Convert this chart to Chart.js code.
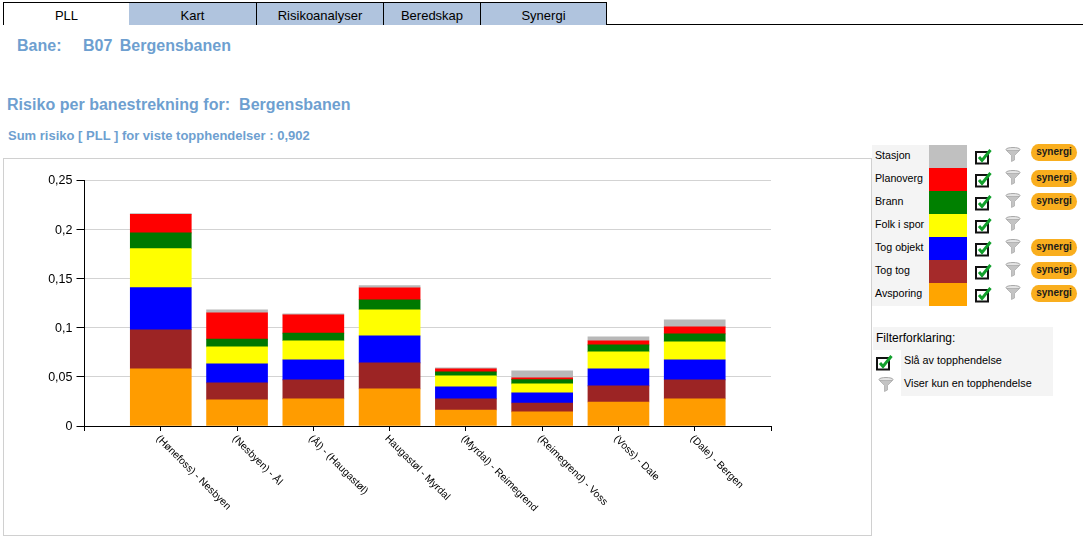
<!DOCTYPE html>
<html>
<head>
<meta charset="utf-8">
<title>Risiko per banestrekning</title>
<script src="https://cdn.jsdelivr.net/npm/chart.js@4/dist/chart.umd.min.js"></script>
<style>
  html, body { margin: 0; padding: 0; background: #fff; overflow: hidden; }
  body { width: 1083px; height: 540px; position: relative; font-family: "Liberation Sans", Arial, sans-serif; color: #000; }
  .abs { position: absolute; white-space: pre; }
  .tab { position: absolute; top: 2px; height: 22px; line-height: 25px; background: #b0c4de; border: 1px solid #000; border-bottom: 0; border-left: 0; text-align: center; font-size: 13px; box-sizing: content-box; }
  .tab.active { background: #fff; border-left: 1px solid #000; }
  .tabline { position: absolute; left: 607px; right: 0; top: 24px; height: 1px; background: #000; }
  .head { color: #6e9fd0; font-weight: bold; }
  #chartBox { position: absolute; left: 3px; top: 158px; width: 869px; height: 378px; border: 1px solid #d0d0d0; box-sizing: border-box; }
  #chart { position: absolute; left: 0; top: 0; }
  .lbl { position: absolute; left: 872px; width: 57px; height: 23px; background: #f4f4f4; font-size: 10.67px; line-height: 21px; text-indent: 3px; white-space: nowrap; }
  .swatch { position: absolute; left: 929px; width: 38px; height: 23px; }
  .syn { position: absolute; left: 1031px; width: 46px; height: 17px; background: #f9ae1e; border-radius: 8px / 9px; font-size: 10px; font-weight: bold; line-height: 16px; text-align: center; color: #1c1c1c; }
  .icon { position: absolute; }
  #filterBox { position: absolute; left: 873px; top: 327px; width: 180px; height: 69px; background: #f4f4f4; }
  #filterCell { position: absolute; left: 873px; top: 350px; width: 28px; height: 46px; background: #fff; }
</style>
</head>
<body>
<div class="tab active" style="left:3px;width:125px">PLL</div>
<div class="tab" style="left:129px;width:127px">Kart</div>
<div class="tab" style="left:257px;width:126px">Risikoanalyser</div>
<div class="tab" style="left:384px;width:96px">Beredskap</div>
<div class="tab" style="left:481px;width:125px">Synergi</div>
<div class="tabline"></div>

<div class="abs head" style="left:17px;top:37px;font-size:16px">Bane:</div>
<div class="abs head" style="left:83px;top:37px;font-size:16px;word-spacing:3px">B07 Bergensbanen</div>
<div class="abs head" style="left:7px;top:96px;font-size:16px;letter-spacing:0.03px">Risiko per banestrekning for:  Bergensbanen</div>
<div class="abs head" style="left:8px;top:128px;font-size:13px">Sum risiko [ PLL ] for viste topphendelser : 0,902</div>

<div id="chartBox"><canvas id="chart" width="866" height="375"></canvas></div>

<div id="filterBox"></div>
<div id="filterCell"></div>
<div class="abs" style="left:876px;top:331px;font-size:12px">Filterforklaring:</div>
<div class="abs" style="left:904px;top:354px;font-size:10.8px">Slå av topphendelse</div>
<div class="abs" style="left:904px;top:377px;font-size:10.8px">Viser kun en topphendelse</div>
<div id="legend"></div>

<script>
// ==== Data ====
const categories = [
  "",
  "(Hønefoss) - Nesbyen",
  "(Nesbyen) - Ål",
  "(Ål) - (Haugastøl)",
  "Haugastøl - Myrdal",
  "(Myrdal) - Reimegrend",
  "(Reimegrend) - Voss",
  "(Voss) - Dale",
  "(Dale) - Bergen",
  ""
];

const avsporing = [null, 0.058, 0.0265, 0.0275, 0.0377, 0.0163, 0.0143, 0.0244, 0.0275, null];
const togTog = [null, 0.0398, 0.0173, 0.0193, 0.0265, 0.0112, 0.0091, 0.0163, 0.0193, null];
const togObjekt = [null, 0.0428, 0.0193, 0.0204, 0.0274, 0.0122, 0.0102, 0.0173, 0.0204, null];
const folkISpor = [null, 0.0397, 0.0173, 0.0194, 0.0265, 0.0112, 0.0092, 0.0174, 0.0183, null];
const brann = [null, 0.016, 0.0079, 0.0078, 0.0102, 0.0041, 0.0044, 0.0071, 0.0082, null];
const planoverg = [null, 0.0187, 0.0268, 0.0186, 0.0122, 0.003, 0.0017, 0.0041, 0.0071, null];
const stasjon = [null, 0.001, 0.003, 0.001, 0.0021, 0.0011, 0.0071, 0.004, 0.0071, null];

// top of the legend first, same order as the reference
const legendNames = ["Stasjon", "Planoverg", "Brann", "Folk i spor", "Tog objekt", "Tog tog", "Avsporing"];
const legendColors = ["#c0c0c0", "#ff0000", "#008000", "#ffff00", "#0000ff", "#a52a2a", "#ffa500"];
const hasSynergi = [true, true, true, false, true, true, true];

// ==== Icons ====
const checkIcon = (left, top) => `
  <svg class="icon" style="left:${left}px;top:${top}px" width="19" height="16" viewBox="0 0 19 16">
    <rect x="2" y="3" width="12" height="11.5" fill="#fff" stroke="#111" stroke-width="2"/>
    <path d="M5 8 L8 11.5 L16.5 1" fill="none" stroke="#12a02c" stroke-width="3"/>
  </svg>`;
const funnelIcon = (left, top) => `
  <svg class="icon" style="left:${left}px;top:${top}px" width="16" height="15" viewBox="0 0 16 15">
    <ellipse cx="8" cy="2.5" rx="7" ry="2" fill="#e4e4e4" stroke="#a8a8a8"/>
    <path d="M1.5 3.5 L6.5 8.5 L6.5 14.5 L9.5 13 L9.5 8.5 L14.5 3.5 Z" fill="#c4c4c4" stroke="#a8a8a8" stroke-width="0.7"/>
  </svg>`;

// ==== Legend ====
let legendHtml = "";
legendNames.forEach((name, i) => {
  const top = 145 + i * 23;
  legendHtml += `<div class="lbl" style="top:${top}px">${name}</div>`;
  legendHtml += `<div class="swatch" style="top:${top}px;background:${legendColors[i]}"></div>`;
  legendHtml += checkIcon(974, top + 4);
  legendHtml += funnelIcon(1005, top + 2);
  if (hasSynergi[i]) legendHtml += `<div class="syn" style="top:${i === 0 ? top - 1 : top + 2}px">synergi</div>`;
});
legendHtml += checkIcon(875, 355);
legendHtml += funnelIcon(878, 377);
document.getElementById("legend").innerHTML = legendHtml;

// ==== Rotated x labels ====
// Chart.js anchors rotated labels by their end, these hang down to the right from the tick
const slantedLabels = {
  id: "slantedLabels",
  afterDraw(chart) {
    const { ctx, scales } = chart;
    const x = scales.x;
    ctx.save();
    ctx.font = '10.3px "Liberation Sans"';
    ctx.fillStyle = "#000";
    ctx.textAlign = "left";
    ctx.textBaseline = "middle";
    categories.forEach((label, i) => {
      if (!label) return;
      ctx.save();
      ctx.translate(x.getPixelForTick(i) - 3, x.top + 11);
      ctx.rotate(Math.PI / 4);
      ctx.fillText(label, 0, 0);
      ctx.restore();
    });
    ctx.restore();
  }
};

// ==== Chart ====
const barColor = { avsporing: "#ff9c00", togTog: "#9c2424", togObjekt: "#0000ff", folk: "#ffff00", brann: "#007800", planoverg: "#ff0000", stasjon: "#b8b8b8" };

new Chart(document.getElementById("chart"), {
  type: "bar",
  plugins: [slantedLabels],
  data: {
    labels: categories,
    datasets: [
      { label: "Avsporing", data: avsporing, backgroundColor: barColor.avsporing },
      { label: "Tog tog", data: togTog, backgroundColor: barColor.togTog },
      { label: "Tog objekt", data: togObjekt, backgroundColor: barColor.togObjekt },
      { label: "Folk i spor", data: folkISpor, backgroundColor: barColor.folk },
      { label: "Brann", data: brann, backgroundColor: barColor.brann },
      { label: "Planoverg", data: planoverg, backgroundColor: barColor.planoverg },
      { label: "Stasjon", data: stasjon, backgroundColor: barColor.stasjon }
    ]
  },
  options: {
    responsive: false,
    animation: false,
    barThickness: 61,
    layout: { padding: { top: 21, right: 99, left: 0, bottom: 0 } },
    plugins: { legend: { display: false }, tooltip: { enabled: false } },
    scales: {
      x: {
        stacked: true,
        offset: false,
        afterFit: (scale) => { scale.height = 108; },
        border: { color: "#000", width: 1 },
        grid: { offset: false, drawOnChartArea: false, tickColor: "#000", tickLength: 5 },
        ticks: { display: false, autoSkip: false }
      },
      y: {
        stacked: true,
        min: 0,
        max: 0.25,
        afterFit: (scale) => { scale.width = 80.5; },
        border: { color: "#000", width: 1 },
        grid: { color: "#d3d3d3", tickColor: "#000", tickLength: 8 },
        ticks: {
          stepSize: 0.05,
          color: "#000",
          padding: 4,
          labelOffset: 1,
          font: { family: '"Liberation Sans"', size: 12.5 },
          callback: (v) => String(Number(v.toFixed(2))).replace(".", ",")
        }
      }
    }
  }
});
</script>
</body>
</html>
